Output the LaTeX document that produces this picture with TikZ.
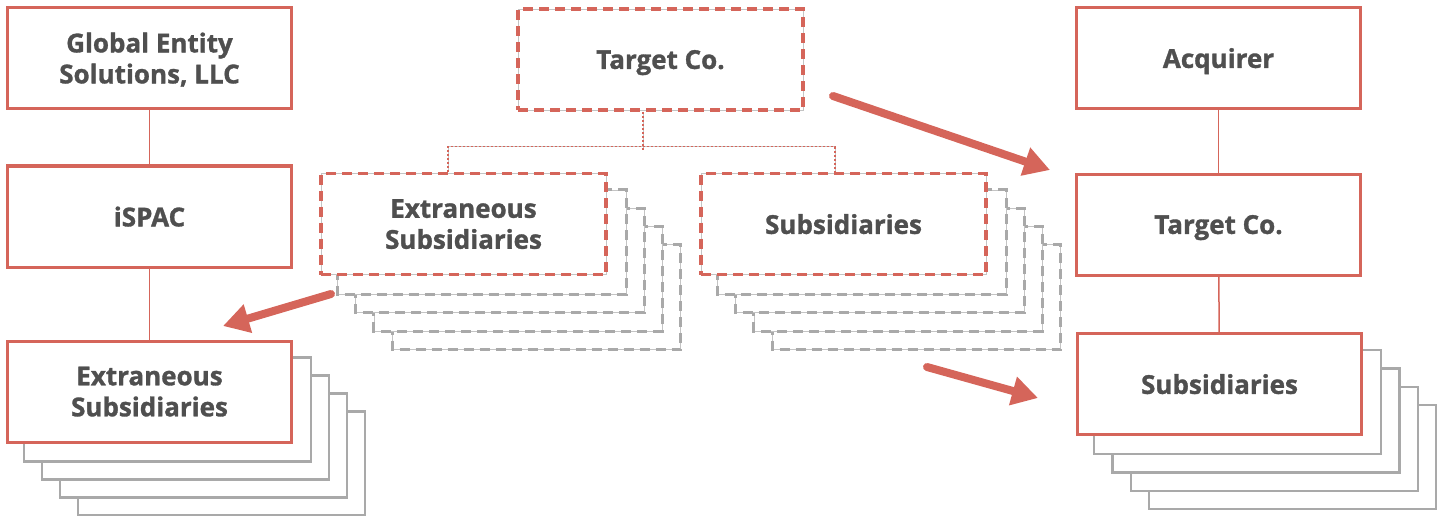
\documentclass[tikz,border=0pt]{standalone}
\usepackage{fontspec}
\setmainfont{Open Sans}[BoldFeatures={FakeBold=1.2}]
\usetikzlibrary{arrows.meta,backgrounds}
\definecolor{boxred}{HTML}{D5655A}
\definecolor{ink}{HTML}{4F4F4F}
\definecolor{stackgray}{HTML}{A9A9A9}
\definecolor{hairgray}{HTML}{C4C4C4}
\begin{document}
\begin{tikzpicture}[x=1pt,y=-1pt,
  label font/.style={text=ink, align=center, text depth=0pt,
    font=\fontsize{26}{31}\selectfont\bfseries},
  entity/.style={label font, draw=boxred, line width=3pt, fill=white,
    minimum width=284pt, minimum height=101pt, inner sep=0pt},
  ghost/.style={label font, draw=boxred, line width=3.6pt, dash pattern=on 10pt off 6pt,
    preaction={fill=white, draw=hairgray, solid, line width=0.8pt},
    minimum width=285pt, minimum height=101pt, inner sep=0pt},
  stackbox/.style={draw=stackgray, line width=2.4pt, fill=white},
  ghoststack/.style={draw=stackgray, line width=3pt, dash pattern=on 10pt off 6pt,
    preaction={fill=white, draw=hairgray, solid, line width=0.8pt}},
  link/.style={draw=boxred, line width=1.5pt},
  tree/.style={draw=boxred, line width=1.6pt, dash pattern=on 2pt off 2pt,
    preaction={draw=hairgray, solid, line width=0.6pt}},
  bigarrow/.style={draw=boxred, line width=8pt, line cap=round,
    -{Triangle[length=26pt,width=28pt]}}
]
\useasboundingbox (0,0) rectangle (1443,516);

% left column
\node[entity] (ge)    at (149.5,58)  {Global Entity\\Solutions, LLC};
\node[entity] (ispac) at (149.5,216.5) {iSPAC};
\node[entity] (exl)   at (149.5,391.5) {Extraneous\\Subsidiaries};

% middle: the unwound structure
\node[ghost] (tm) at (660.5,59.5) {Target Co.};
\node[ghost] (em) at (463.5,224)  {Extraneous\\Subsidiaries};
\node[ghost] (sm) at (843.5,224)  {Subsidiaries};

% right column
\node[entity] (acq) at (1218.5,58)    {Acquirer};
\node[entity] (tr)  at (1218.5,224.5) {Target Co.};
\node[entity] (sr)  at (1219.5,384)   {Subsidiaries};

% stacked copies behind the subsidiary boxes
\begin{scope}[on background layer]
  \foreach \i in {4,3,2,1} {
    \draw[stackbox] ([shift={(18*\i,18*\i)}]exl.north west) rectangle ([shift={(18*\i,18*\i)}]exl.south east);
    \draw[stackbox] ([shift={(18.25*\i,18.25*\i)}]sr.north west) rectangle ([shift={(18.25*\i,18.25*\i)}]sr.south east);
    \draw[ghoststack] ([shift={(18.25*\i,18.25*\i)}]em.north west) rectangle ([shift={(18.25*\i,18.25*\i)}]em.south east);
    \draw[ghoststack] ([shift={(18.25*\i,18.25*\i)}]sm.north west) rectangle ([shift={(18.25*\i,18.25*\i)}]sm.south east);
  }
\end{scope}

% ownership links
\draw[link] (ge) -- (ispac);
\draw[link] (ispac) -- (exl);
\draw[link] (acq) -- (tr);
\draw[link] (tr) -- (sr);

% dotted tree under the middle Target Co.
\draw[tree] ([xshift=-17.5pt]tm.south) -- ++(0,38);
\draw[tree] ([xshift=-15.5pt]em.north) -- ++(0,-25) -| ([xshift=-8.5pt]sm.north);

% movement arrows
\coordinate (a1s) at (833,96);
\coordinate (a1e) at (1050,170);
\coordinate (a2s) at (331,294);
\coordinate (a2e) at (223,326);
\coordinate (a3s) at (927,367);
\coordinate (a3e) at (1038,398);
\draw[bigarrow] (a1s) -- (a1e);
\draw[bigarrow] (a2s) -- (a2e);
\draw[bigarrow] (a3s) -- (a3e);
\end{tikzpicture}
\end{document}
